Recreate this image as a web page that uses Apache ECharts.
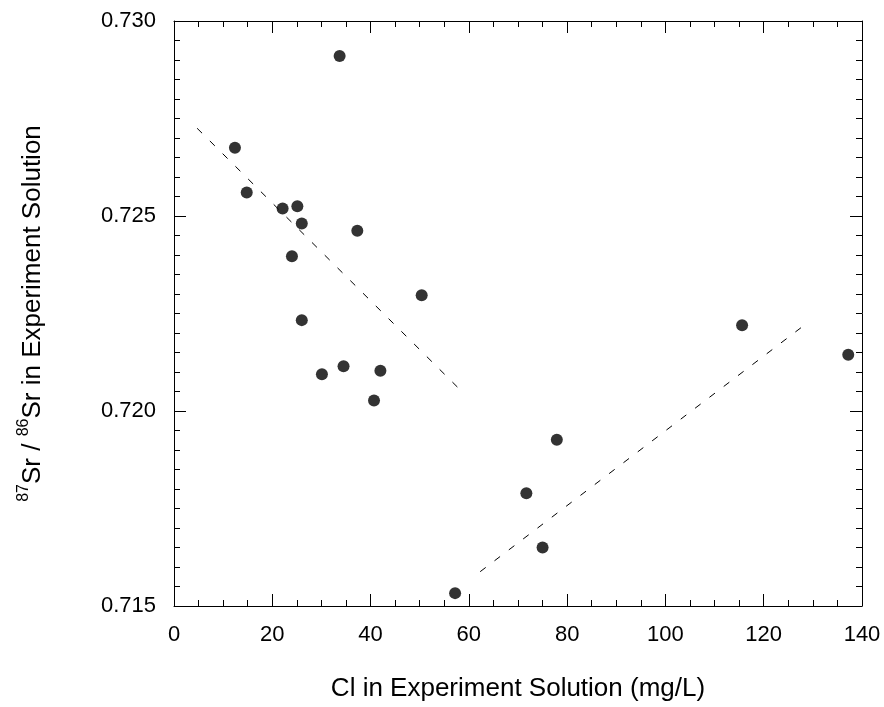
<!DOCTYPE html>
<html>
<head>
<meta charset="utf-8">
<script src="https://cdn.jsdelivr.net/npm/echarts@6/dist/echarts.min.js"></script>
<style>
  html, body { margin: 0; padding: 0; background: #fff; }
  #chart { width: 884px; height: 707px; }
</style>
</head>
<body>
<div id="chart"></div>
<script>
// measured samples: Cl (mg/L) vs 87Sr/86Sr
const clValues = [12.4, 14.8, 22.1, 25.1, 26.0, 37.3, 24.0, 33.7, 26.0, 50.4,
                  30.1, 34.5, 42.0, 40.7, 57.2, 71.7, 75.0, 77.9, 115.6, 137.2];
const srRatios = [0.72675, 0.72560, 0.72519, 0.72525, 0.72481, 0.72462, 0.72397, 0.72910, 0.72233, 0.72297,
                  0.72094, 0.72115, 0.72103, 0.72027, 0.71533, 0.71789, 0.71650, 0.71926, 0.72220, 0.72144];

// dashed trend lines (end points)
const trendLeftX = [4.7, 58.9];
const trendLeftY = [0.72725, 0.72046];
const trendRightX = [62.3, 129.3];
const trendRightY = [0.71588, 0.72230];

const xTicks = { min: 0, max: 140, interval: 20 };
const yTicks = { min: 0.715, max: 0.730, interval: 0.005 };

const font = '"Liberation Sans", Arial, sans-serif';
const axisColor = '#000';

function pairs(xs, ys) {
  return xs.map((x, i) => [x, ys[i]]);
}

function xAxisDef(pos, showLabels) {
  return {
    type: 'value',
    position: pos,
    min: xTicks.min, max: xTicks.max, interval: xTicks.interval,
    name: showLabels ? 'Cl in Experiment Solution (mg/L)' : '',
    nameLocation: 'middle',
    nameGap: 70,
    nameTextStyle: { fontFamily: font, fontSize: 26, color: '#000' },
    axisLine: { show: true, onZero: false, lineStyle: { color: axisColor, width: 1 } },
    axisTick: { show: true, inside: true, length: 12, lineStyle: { color: axisColor } },
    minorTick: { show: true, splitNumber: 4, length: 6, lineStyle: { color: axisColor } },
    axisLabel: { show: showLabels, margin: 18, fontFamily: font, fontSize: 22, color: '#000' },
    splitLine: { show: false }
  };
}

function yAxisDef(pos, showLabels) {
  return {
    type: 'value',
    position: pos,
    min: yTicks.min, max: yTicks.max, interval: yTicks.interval,
    name: showLabels ? '{sup|87}{n|Sr / }{sup|86}{n|Sr in Experiment Solution}' : '',
    nameLocation: 'middle',
    nameGap: 128,
    nameTextStyle: {
      fontFamily: font, color: '#000',
      rich: {
        n: { fontFamily: font, fontSize: 26, color: '#000', lineHeight: 32, verticalAlign: 'bottom' },
        sup: { fontFamily: font, fontSize: 16, color: '#000', lineHeight: 32, verticalAlign: 'top', padding: [2, 0, 0, 0] }
      }
    },
    axisLine: { show: true, onZero: false, lineStyle: { color: axisColor, width: 1 } },
    axisTick: { show: true, inside: true, length: 12, lineStyle: { color: axisColor } },
    minorTick: { show: true, splitNumber: 10, length: 6, lineStyle: { color: axisColor } },
    axisLabel: {
      show: showLabels, margin: 18, fontFamily: font, fontSize: 22, color: '#000',
      formatter: v => v.toFixed(3)
    },
    splitLine: { show: false }
  };
}

const chart = echarts.init(document.getElementById('chart'), null, { renderer: 'canvas' });

chart.setOption({
  animation: false,
  backgroundColor: '#fff',
  grid: { left: 174, right: 22, top: 21, bottom: 100, containLabel: false },
  xAxis: [xAxisDef('bottom', true), xAxisDef('top', false)],
  yAxis: [yAxisDef('left', true), yAxisDef('right', false)],
  series: [
    {
      type: 'line',
      data: pairs(trendLeftX, trendLeftY),
      symbol: 'none',
      lineStyle: { color: '#000', width: 1, type: [7, 11] },
      z: 1
    },
    {
      type: 'line',
      data: pairs(trendRightX, trendRightY),
      symbol: 'none',
      lineStyle: { color: '#000', width: 1, type: [7, 11] },
      z: 1
    },
    {
      type: 'scatter',
      data: pairs(clValues, srRatios),
      symbol: 'circle',
      symbolSize: 12,
      itemStyle: { color: '#000' },
      z: 3
    }
  ]
});
</script>
</body>
</html>
